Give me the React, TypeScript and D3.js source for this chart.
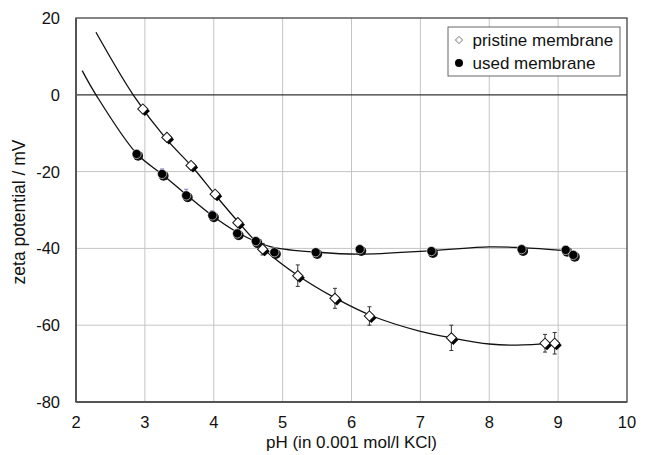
import { scaleLinear, line, curveCatmullRom, symbol, symbolSquare } from 'd3';

const width = 651;
const height = 455;
const margin = { top: 18, right: 24, bottom: 53, left: 76 };
const innerW = width - margin.left - margin.right;
const innerH = height - margin.top - margin.bottom;

const xTicks = [2, 3, 4, 5, 6, 7, 8, 9, 10];
const yTicks = [20, 0, -20, -40, -60, -80];

// pristine membrane (open diamonds)
const pristinePH = [2.97, 3.32, 3.67, 4.02, 4.35, 4.71, 5.22, 5.76, 6.26, 7.45, 8.81, 8.95];
const pristineZeta = [-3.7, -11.1, -18.4, -25.9, -33.3, -40.2, -47.1, -53.0, -57.6, -63.3, -64.7, -64.7];
const pristineErr = [0.5, 0.5, 0.5, 0.5, 0.8, 1.5, 2.8, 2.6, 2.4, 3.3, 2.3, 2.8];

// used membrane (filled circles)
const usedPH = [2.88, 3.25, 3.6, 3.98, 4.34, 4.61, 4.88, 5.48, 6.12, 7.16, 8.47, 9.11, 9.22];
const usedZeta = [-15.4, -20.6, -26.2, -31.4, -36.1, -38.1, -41.0, -41.0, -40.2, -40.7, -40.2, -40.4, -41.7];
const usedErr = [0.5, 1.3, 1.6, 1.2, 0.5, 0.5, 0.4, 0.4, 0.4, 0.4, 0.4, 0.4, 0.4];

// fitted trend lines
const pristineFitPH = [2.29, 2.83, 3.3, 3.7, 4.0, 4.35, 4.7, 5.2, 5.76, 6.3, 7.0, 7.45, 8.0, 8.4, 8.95];
const pristineFitZeta = [16.3, 0, -11.3, -19.0, -25.6, -33.0, -39.8, -46.8, -52.9, -57.6, -61.6, -63.3, -64.9, -65.2, -64.6];
const usedFitPH = [2.09, 2.29, 2.88, 3.25, 3.6, 3.98, 4.34, 4.61, 4.88, 5.5, 6.1, 7.16, 8.0, 8.47, 9.11];
const usedFitZeta = [6.3, 0, -15.3, -20.7, -26.0, -31.5, -35.8, -38.2, -39.8, -41.0, -41.5, -40.6, -39.6, -39.8, -40.6];

const fontFamily = 'Arial, "Liberation Sans", sans-serif';

const App = () => {
  const x = scaleLinear().domain([2, 10]).range([0, innerW]);
  const y = scaleLinear().domain([-80, 20]).range([innerH, 0]);

  const pristinePath = line<number>()
    .x((d) => x(d))
    .y((d, i) => y(pristineFitZeta[i]))
    .curve(curveCatmullRom.alpha(0.5))(pristineFitPH);
  const usedPath = line<number>()
    .x((d) => x(d))
    .y((d, i) => y(usedFitZeta[i]))
    .curve(curveCatmullRom.alpha(0.5))(usedFitPH);

  // square turned 45 degrees = diamond with equal width and height
  const diamond = symbol().type(symbolSquare).size(52)();
  const legendDiamond = symbol().type(symbolSquare).size(26)();

  return (
    <svg width={width} height={height} style={{ position: 'absolute', left: 0, top: 0, background: '#fff' }}>
      <g transform={`translate(${margin.left},${margin.top})`} fontFamily={fontFamily}>
        {/* grid */}
        {xTicks.slice(1, -1).map((t) => (
          <line key={'gx' + t} x1={x(t)} x2={x(t)} y1={0} y2={innerH} stroke="#c4c4c4" strokeWidth={1} />
        ))}
        {yTicks.filter((t) => t !== 0 && t !== 20 && t !== -80).map((t) => (
          <line key={'gy' + t} x1={0} x2={innerW} y1={y(t)} y2={y(t)} stroke="#c4c4c4" strokeWidth={1} />
        ))}
        <line x1={0} x2={innerW} y1={y(0)} y2={y(0)} stroke="#333" strokeWidth={1.3} />
        <rect x={0} y={0} width={innerW} height={innerH} fill="none" stroke="#444" strokeWidth={1.3} />
        <line x1={0} x2={0} y1={0} y2={innerH} stroke="#555" strokeWidth={2} />
        <line x1={0} x2={innerW} y1={innerH} y2={innerH} stroke="#555" strokeWidth={2} />

        {/* tick labels */}
        {xTicks.map((t) => (
          <text key={'tx' + t} x={x(t)} y={innerH + 26} textAnchor="middle" fontSize={16.5} fill="#111">
            {t}
          </text>
        ))}
        {yTicks.map((t) => (
          <text key={'ty' + t} x={-16} y={y(t) + 6} textAnchor="end" fontSize={16.5} fill="#111">
            {t}
          </text>
        ))}
        <text x={innerW / 2} y={innerH + 46} textAnchor="middle" fontSize={17} fill="#111">
          pH (in 0.001 mol/l KCl)
        </text>
        <text
          transform={`translate(${-51},${innerH / 2 + 2}) rotate(-90)`}
          textAnchor="middle"
          fontSize={17.5}
          fill="#111"
        >
          zeta potential / mV
        </text>

        {/* fitted curves */}
        <path d={pristinePath || ''} fill="none" stroke="#111" strokeWidth={1.3} />
        <path d={usedPath || ''} fill="none" stroke="#111" strokeWidth={1.3} />

        {/* error bars */}
        {pristinePH.map((p, i) => (
          <g key={'pe' + i} stroke="#333" strokeWidth={1}>
            <line x1={x(p)} x2={x(p)} y1={y(pristineZeta[i] + pristineErr[i])} y2={y(pristineZeta[i] - pristineErr[i])} />
            <line x1={x(p) - 2} x2={x(p) + 2} y1={y(pristineZeta[i] + pristineErr[i])} y2={y(pristineZeta[i] + pristineErr[i])} />
            <line x1={x(p) - 2} x2={x(p) + 2} y1={y(pristineZeta[i] - pristineErr[i])} y2={y(pristineZeta[i] - pristineErr[i])} />
          </g>
        ))}
        {usedPH.map((p, i) => (
          <g key={'ue' + i} stroke="#7a7ad8" strokeWidth={1}>
            <line x1={x(p)} x2={x(p)} y1={y(usedZeta[i] + usedErr[i])} y2={y(usedZeta[i] - usedErr[i])} />
            <line x1={x(p) - 2} x2={x(p) + 2} y1={y(usedZeta[i] + usedErr[i])} y2={y(usedZeta[i] + usedErr[i])} />
          </g>
        ))}

        {/* used membrane markers */}
        {usedPH.map((p, i) => (
          <g key={'u' + i} transform={`translate(${x(p)},${y(usedZeta[i])})`}>
            <circle cx={1.5} cy={1.8} r={5} fill="#111" />
            <circle cx={0} cy={0} r={4.6} fill="#000" stroke="#fff" strokeWidth={0.6} />
          </g>
        ))}

        {/* pristine membrane markers */}
        {pristinePH.map((p, i) => (
          <g key={'p' + i} transform={`translate(${x(p)},${y(pristineZeta[i])})`}>
            <path d={diamond} transform="translate(2,2) rotate(45)" fill="#000" />
            <path d={diamond} transform="rotate(45)" fill="#fff" stroke="#111" strokeWidth={1} />
          </g>
        ))}

        {/* legend */}
        <g transform={`translate(${372},${9})`}>
          <rect x={0} y={0} width={172} height={49} fill="#fff" stroke="#666" strokeWidth={1} />
          <path d={legendDiamond} transform="translate(11,13) rotate(45)" fill="#fff" stroke="#999" strokeWidth={1} />
          <circle cx={11} cy={36} r={4} fill="#000" />
          <text x={24.5} y={19} fontSize={17} fill="#111">pristine membrane</text>
          <text x={24.5} y={42} fontSize={17} fill="#111">used membrane</text>
        </g>
      </g>
    </svg>
  );
};

export default App;
